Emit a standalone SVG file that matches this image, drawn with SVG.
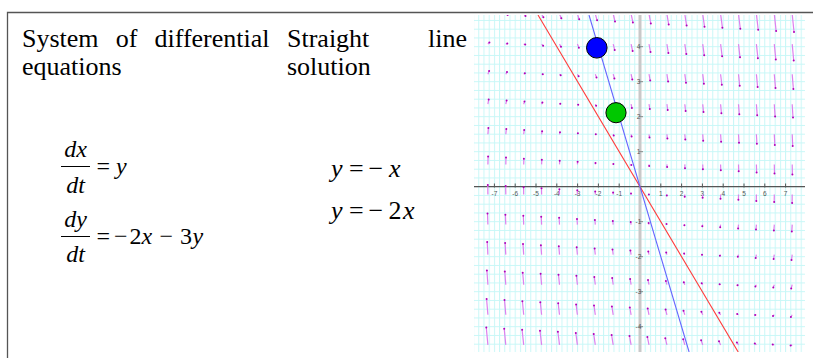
<svg xmlns="http://www.w3.org/2000/svg" width="813" height="358" viewBox="0 0 813 358">
<style>
.t{font-family:"Liberation Serif","Times New Roman",serif;font-size:26px;fill:#000}
.m{font-family:"Liberation Serif","Times New Roman",serif;font-size:24px;fill:#000}
.m2{font-family:"Liberation Serif","Times New Roman",serif;font-size:26px;fill:#000}
.i{font-style:italic}
.tl{font-family:"Liberation Sans",Arial,sans-serif;font-size:6.5px;fill:#555;text-anchor:middle}
.v path{fill:none;stroke:#de80ef;stroke-width:1.2;marker-end:url(#hd)}
</style>
<defs>
<pattern id="grid" x="639.5" y="186.2" width="5.2" height="8.75" patternUnits="userSpaceOnUse">
<path d="M0.5 0V8.75M0 0.5H5.2" stroke="#c8f7f7" stroke-width="1" fill="none"/>
</pattern>
<clipPath id="gc"><rect x="474" y="15" width="331" height="337"/></clipPath>
<marker id="hd" viewBox="0 0 4 4" refX="2" refY="2" markerWidth="4" markerHeight="4" markerUnits="userSpaceOnUse" orient="0">
<circle cx="2" cy="2" r="1" fill="#b000b8"/>
</marker>
</defs>
<rect width="813" height="358" fill="#fff"/>
<g id="frame" stroke="#555" stroke-width="1.3" fill="none">
<path d="M813 12.5H7.5V358"/>
</g>
<g id="header">
<text class="t" y="47"><tspan x="22">System</tspan><tspan x="115.7">of</tspan><tspan x="154.5">differential</tspan></text>
<text class="t" y="75"><tspan x="22">equations</tspan></text>
<text class="t" y="47"><tspan x="287">Straight</tspan><tspan x="428">line</tspan></text>
<text class="t" y="75"><tspan x="287">solution</tspan></text>
</g>
<g id="system">
<text class="m i" x="75.5" y="157" text-anchor="middle">dx</text>
<line x1="61" y1="166.5" x2="90" y2="166.5" stroke="#000" stroke-width="1"/>
<text class="m i" x="75.5" y="193" text-anchor="middle">dt</text>
<text class="m" y="174"><tspan x="96.5">=</tspan><tspan class="i" x="116">y</tspan></text>
<text class="m i" x="75.5" y="227" text-anchor="middle">dy</text>
<line x1="61" y1="236.5" x2="90" y2="236.5" stroke="#000" stroke-width="1"/>
<text class="m i" x="75.5" y="262" text-anchor="middle">dt</text>
<text class="m" y="244"><tspan x="96.5">=</tspan><tspan x="114">−</tspan><tspan x="129.5">2</tspan><tspan class="i" x="141.5">x</tspan><tspan x="159.5">−</tspan><tspan x="180">3</tspan><tspan class="i" x="192.5">y</tspan></text>
</g>
<g id="solutions">
<text class="m2" y="177"><tspan class="i" x="331">y</tspan><tspan x="349">=</tspan><tspan x="368.5">−</tspan><tspan class="i" x="389">x</tspan></text>
<text class="m2" y="219"><tspan class="i" x="331">y</tspan><tspan x="349">=</tspan><tspan x="368.5">−</tspan><tspan x="388.5">2</tspan><tspan class="i" x="403">x</tspan></text>
</g>
<g id="plot">
<rect x="474" y="15" width="331" height="337" fill="#fff"/>
<rect x="474" y="15" width="331" height="337" fill="url(#grid)"/>
<g clip-path="url(#gc)">
<line x1="640" y1="15" x2="640" y2="352" stroke="#c9c9c9" stroke-width="3"/>
<line x1="474" y1="186.7" x2="805" y2="186.7" stroke="#555" stroke-width="1.3"/>
<g stroke="#555" stroke-width="1" fill="none">
<path d="M494.4 183.5v4M515.2 183.5v4M536 183.5v4M556.8 183.5v4M577.6 183.5v4M598.4 183.5v4M619.2 183.5v4M660.8 183.5v4M681.6 183.5v4M702.4 183.5v4M723.2 183.5v4M744 183.5v4M764.8 183.5v4M785.6 183.5v4"/>
<path d="M639 46.7h4M639 81.7h4M639 116.7h4M639 151.7h4M639 221.7h4M639 256.7h4M639 291.7h4M639 326.7h4" stroke="#888"/>
</g>
<g id="xlabels">
<text class="tl" x="494.4" y="196">-7</text><text class="tl" x="515.2" y="196">-6</text><text class="tl" x="536" y="196">-5</text><text class="tl" x="556.8" y="196">-4</text><text class="tl" x="577.6" y="196">-3</text><text class="tl" x="598.4" y="196">-2</text><text class="tl" x="619.2" y="196">-1</text>
<text class="tl" x="660.8" y="196">1</text><text class="tl" x="681.6" y="196">2</text><text class="tl" x="702.4" y="196">3</text><text class="tl" x="723.2" y="196">4</text><text class="tl" x="744" y="196">5</text><text class="tl" x="764.8" y="196">6</text><text class="tl" x="785.6" y="196">7</text>
</g>
<g id="ylabels">
<text class="tl" x="638.5" y="49">4</text><text class="tl" x="638.5" y="84">3</text><text class="tl" x="638.5" y="119">2</text><text class="tl" x="638.5" y="154">1</text><text class="tl" x="638.5" y="224">-1</text><text class="tl" x="638.5" y="259">-2</text><text class="tl" x="638.5" y="294">-3</text><text class="tl" x="638.5" y="329">-4</text>
</g>
<g class="v" id="field">
<g transform="translate(0,14)"><path d="M487.9 0l1.8 0"/><path d="M505.8 0l1.8 1.1"/><path d="M523.7 0l1.8 2.1"/><path d="M541.6 0l1.8 3.2"/><path d="M559.5 0l1.8 4.2"/><path d="M577.4 0l1.8 5.3"/><path d="M595.3 0l1.8 6.3"/><path d="M613.2 0l1.8 7.4"/><path d="M631.1 0l1.8 8.4"/><path d="M649 0l1.8 9.5"/><path d="M666.9 0l1.8 10.5"/><path d="M684.8 0l1.8 11.6"/><path d="M702.7 0l1.8 12.7"/><path d="M720.6 0l1.8 13.7"/><path d="M738.5 0l1.8 14.8"/><path d="M756.4 0l1.8 15.8"/><path d="M774.3 0l1.8 16.9"/><path d="M792.2 0l1.8 17.9"/></g>
<g transform="translate(0,44.1)"><path d="M487.9 0l1.5 -1.6"/><path d="M505.8 0l1.5 -0.5"/><path d="M523.7 0l1.5 0.5"/><path d="M541.6 0l1.5 1.6"/><path d="M559.5 0l1.5 2.6"/><path d="M577.4 0l1.5 3.7"/><path d="M595.3 0l1.5 4.8"/><path d="M613.2 0l1.5 5.8"/><path d="M631.1 0l1.5 6.9"/><path d="M649 0l1.5 7.9"/><path d="M666.9 0l1.5 9"/><path d="M684.8 0l1.5 10"/><path d="M702.7 0l1.5 11.1"/><path d="M720.6 0l1.5 12.1"/><path d="M738.5 0l1.5 13.2"/><path d="M756.4 0l1.5 14.2"/><path d="M774.3 0l1.5 15.3"/><path d="M792.2 0l1.5 16.4"/></g>
<g transform="translate(0,74.2)"><path d="M487.9 0l1.2 -3.1"/><path d="M505.8 0l1.2 -2.1"/><path d="M523.7 0l1.2 -1"/><path d="M541.6 0l1.2 0"/><path d="M559.5 0l1.2 1.1"/><path d="M577.4 0l1.2 2.1"/><path d="M595.3 0l1.2 3.2"/><path d="M613.2 0l1.2 4.2"/><path d="M631.1 0l1.2 5.3"/><path d="M649 0l1.2 6.4"/><path d="M666.9 0l1.2 7.4"/><path d="M684.8 0l1.2 8.5"/><path d="M702.7 0l1.2 9.5"/><path d="M720.6 0l1.2 10.6"/><path d="M738.5 0l1.2 11.6"/><path d="M756.4 0l1.2 12.7"/><path d="M774.3 0l1.2 13.7"/><path d="M792.2 0l1.2 14.8"/></g>
<g transform="translate(0,104.2)"><path d="M487.9 0l0.8 -4.7"/><path d="M505.8 0l0.8 -3.7"/><path d="M523.7 0l0.8 -2.6"/><path d="M541.6 0l0.8 -1.6"/><path d="M559.5 0l0.8 -0.5"/><path d="M577.4 0l0.8 0.6"/><path d="M595.3 0l0.8 1.6"/><path d="M613.2 0l0.8 2.7"/><path d="M631.1 0l0.8 3.7"/><path d="M649 0l0.8 4.8"/><path d="M666.9 0l0.8 5.8"/><path d="M684.8 0l0.8 6.9"/><path d="M702.7 0l0.8 7.9"/><path d="M720.6 0l0.8 9"/><path d="M738.5 0l0.8 10.1"/><path d="M756.4 0l0.8 11.1"/><path d="M774.3 0l0.8 12.2"/><path d="M792.2 0l0.8 13.2"/></g>
<g transform="translate(0,134.3)"><path d="M487.9 0l0.5 -6.3"/><path d="M505.8 0l0.5 -5.2"/><path d="M523.7 0l0.5 -4.2"/><path d="M541.6 0l0.5 -3.1"/><path d="M559.5 0l0.5 -2.1"/><path d="M577.4 0l0.5 -1"/><path d="M595.3 0l0.5 0"/><path d="M613.2 0l0.5 1.1"/><path d="M631.1 0l0.5 2.2"/><path d="M649 0l0.5 3.2"/><path d="M666.9 0l0.5 4.3"/><path d="M684.8 0l0.5 5.3"/><path d="M702.7 0l0.5 6.4"/><path d="M720.6 0l0.5 7.4"/><path d="M738.5 0l0.5 8.5"/><path d="M756.4 0l0.5 9.5"/><path d="M774.3 0l0.5 10.6"/><path d="M792.2 0l0.5 11.6"/></g>
<g transform="translate(0,164.4)"><path d="M487.9 0l0.2 -7.9"/><path d="M505.8 0l0.2 -6.8"/><path d="M523.7 0l0.2 -5.7"/><path d="M541.6 0l0.2 -4.7"/><path d="M559.5 0l0.2 -3.6"/><path d="M577.4 0l0.2 -2.6"/><path d="M595.3 0l0.2 -1.5"/><path d="M613.2 0l0.2 -0.5"/><path d="M631.1 0l0.2 0.6"/><path d="M649 0l0.2 1.6"/><path d="M666.9 0l0.2 2.7"/><path d="M684.8 0l0.2 3.8"/><path d="M702.7 0l0.2 4.8"/><path d="M720.6 0l0.2 5.9"/><path d="M738.5 0l0.2 6.9"/><path d="M756.4 0l0.2 8"/><path d="M774.3 0l0.2 9"/><path d="M792.2 0l0.2 10.1"/></g>
<g transform="translate(0,194.5)"><path d="M487.9 0l-0.1 -9.4"/><path d="M505.8 0l-0.1 -8.4"/><path d="M523.7 0l-0.1 -7.3"/><path d="M541.6 0l-0.1 -6.3"/><path d="M559.5 0l-0.1 -5.2"/><path d="M577.4 0l-0.1 -4.2"/><path d="M595.3 0l-0.1 -3.1"/><path d="M613.2 0l-0.1 -2"/><path d="M631.1 0l-0.1 -1"/><path d="M649 0l-0.1 0.1"/><path d="M666.9 0l-0.1 1.1"/><path d="M684.8 0l-0.1 2.2"/><path d="M702.7 0l-0.1 3.2"/><path d="M720.6 0l-0.1 4.3"/><path d="M738.5 0l-0.1 5.3"/><path d="M756.4 0l-0.1 6.4"/><path d="M774.3 0l-0.1 7.5"/><path d="M792.2 0l-0.1 8.5"/></g>
<g transform="translate(0,224.6)"><path d="M487.9 0l-0.4 -11"/><path d="M505.8 0l-0.4 -9.9"/><path d="M523.7 0l-0.4 -8.9"/><path d="M541.6 0l-0.4 -7.8"/><path d="M559.5 0l-0.4 -6.8"/><path d="M577.4 0l-0.4 -5.7"/><path d="M595.3 0l-0.4 -4.7"/><path d="M613.2 0l-0.4 -3.6"/><path d="M631.1 0l-0.4 -2.6"/><path d="M649 0l-0.4 -1.5"/><path d="M666.9 0l-0.4 -0.5"/><path d="M684.8 0l-0.4 0.6"/><path d="M702.7 0l-0.4 1.7"/><path d="M720.6 0l-0.4 2.7"/><path d="M738.5 0l-0.4 3.8"/><path d="M756.4 0l-0.4 4.8"/><path d="M774.3 0l-0.4 5.9"/><path d="M792.2 0l-0.4 6.9"/></g>
<g transform="translate(0,254.6)"><path d="M487.9 0l-0.7 -12.6"/><path d="M505.8 0l-0.7 -11.5"/><path d="M523.7 0l-0.7 -10.5"/><path d="M541.6 0l-0.7 -9.4"/><path d="M559.5 0l-0.7 -8.3"/><path d="M577.4 0l-0.7 -7.3"/><path d="M595.3 0l-0.7 -6.2"/><path d="M613.2 0l-0.7 -5.2"/><path d="M631.1 0l-0.7 -4.1"/><path d="M649 0l-0.7 -3.1"/><path d="M666.9 0l-0.7 -2"/><path d="M684.8 0l-0.7 -1"/><path d="M702.7 0l-0.7 0.1"/><path d="M720.6 0l-0.7 1.1"/><path d="M738.5 0l-0.7 2.2"/><path d="M756.4 0l-0.7 3.3"/><path d="M774.3 0l-0.7 4.3"/><path d="M792.2 0l-0.7 5.4"/></g>
<g transform="translate(0,284.7)"><path d="M487.9 0l-1 -14.1"/><path d="M505.8 0l-1 -13.1"/><path d="M523.7 0l-1 -12"/><path d="M541.6 0l-1 -11"/><path d="M559.5 0l-1 -9.9"/><path d="M577.4 0l-1 -8.9"/><path d="M595.3 0l-1 -7.8"/><path d="M613.2 0l-1 -6.8"/><path d="M631.1 0l-1 -5.7"/><path d="M649 0l-1 -4.6"/><path d="M666.9 0l-1 -3.6"/><path d="M684.8 0l-1 -2.5"/><path d="M702.7 0l-1 -1.5"/><path d="M720.6 0l-1 -0.4"/><path d="M738.5 0l-1 0.6"/><path d="M756.4 0l-1 1.7"/><path d="M774.3 0l-1 2.7"/><path d="M792.2 0l-1 3.8"/></g>
<g transform="translate(0,314.8)"><path d="M487.9 0l-1.3 -15.7"/><path d="M505.8 0l-1.3 -14.7"/><path d="M523.7 0l-1.3 -13.6"/><path d="M541.6 0l-1.3 -12.5"/><path d="M559.5 0l-1.3 -11.5"/><path d="M577.4 0l-1.3 -10.4"/><path d="M595.3 0l-1.3 -9.4"/><path d="M613.2 0l-1.3 -8.3"/><path d="M631.1 0l-1.3 -7.3"/><path d="M649 0l-1.3 -6.2"/><path d="M666.9 0l-1.3 -5.2"/><path d="M684.8 0l-1.3 -4.1"/><path d="M702.7 0l-1.3 -3.1"/><path d="M720.6 0l-1.3 -2"/><path d="M738.5 0l-1.3 -0.9"/><path d="M756.4 0l-1.3 0.1"/><path d="M774.3 0l-1.3 1.2"/><path d="M792.2 0l-1.3 2.2"/></g>
<g transform="translate(0,344.9)"><path d="M487.9 0l-1.6 -17.3"/><path d="M505.8 0l-1.6 -16.2"/><path d="M523.7 0l-1.6 -15.2"/><path d="M541.6 0l-1.6 -14.1"/><path d="M559.5 0l-1.6 -13.1"/><path d="M577.4 0l-1.6 -12"/><path d="M595.3 0l-1.6 -11"/><path d="M613.2 0l-1.6 -9.9"/><path d="M631.1 0l-1.6 -8.8"/><path d="M649 0l-1.6 -7.8"/><path d="M666.9 0l-1.6 -6.7"/><path d="M684.8 0l-1.6 -5.7"/><path d="M702.7 0l-1.6 -4.6"/><path d="M720.6 0l-1.6 -3.6"/><path d="M738.5 0l-1.6 -2.5"/><path d="M756.4 0l-1.6 -1.5"/><path d="M774.3 0l-1.6 -0.4"/><path d="M792.2 0l-1.6 0.7"/></g>
</g>
<line id="line-red" x1="538" y1="15" x2="738.2" y2="352" stroke="#ff3b3b" stroke-width="1.1"/>
<line id="line-blue" x1="589" y1="15" x2="689.1" y2="352" stroke="#6464ff" stroke-width="1.1"/>
</g>
<circle id="pt-blue" cx="596.8" cy="47.8" r="10.3" fill="#0000ff" stroke="#000" stroke-width="1"/>
<circle id="pt-green" cx="616" cy="112.7" r="10.1" fill="#00c800" stroke="#000" stroke-width="1"/>
</g>
</svg>
